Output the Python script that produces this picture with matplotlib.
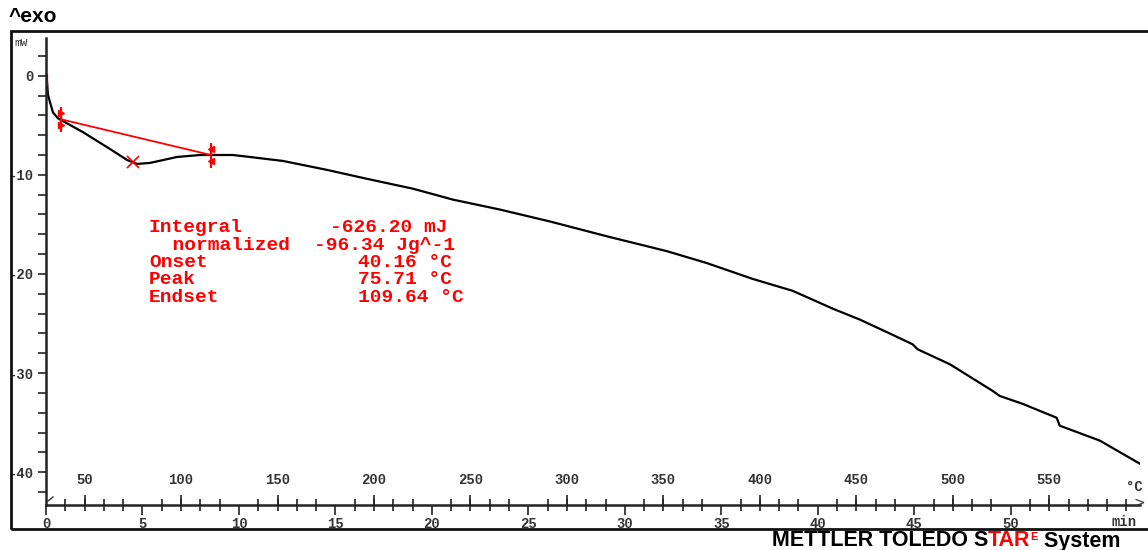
import numpy as np
import matplotlib.pyplot as plt
from matplotlib.patches import Rectangle
from matplotlib.ticker import MultipleLocator

# DSC curve: time in min, heat flow in mW
time_min = [0.0, 0.05, 0.10, 0.21, 0.36, 0.62, 1.92, 3.32, 4.20, 4.72, 5.39, 6.79,
            7.98, 9.69, 10.57, 12.28, 14.56, 16.63, 19.02, 21.09, 23.52, 26.11,
            29.07, 32.18, 34.25, 36.63, 38.70, 40.78, 42.18, 43.73, 44.92, 45.18,
            46.84, 49.07, 49.43, 50.62, 52.38, 52.54, 54.61, 56.84]
heat_flow_mw = [-0.2, -0.5, -1.9, -2.7, -3.7, -4.3, -5.7, -7.4, -8.5, -8.9, -8.8, -8.2,
                -8.0, -8.0, -8.2, -8.6, -9.5, -10.4, -11.4, -12.5, -13.5, -14.7,
                -16.2, -17.7, -18.9, -20.5, -21.7, -23.5, -24.6, -26.0, -27.1, -27.6,
                -29.1, -31.8, -32.3, -33.1, -34.5, -35.3, -36.8, -39.3]

baseline_t = [0.78, 8.55]
baseline_mw = [-4.4, -8.0]
peak_t, peak_mw = 4.5, -8.7
start_t, start_mw = 0.05, -0.4

result_names = ['Integral', '  normalized', 'Onset', 'Peak', 'Endset']
result_values = ['-626.20 mJ', '-96.34 Jg^-1', '40.16 °C', '75.71 °C', '109.64 °C']

time_ticks = list(range(0, 51, 5))
temp_ticks = list(range(50, 551, 50))
mw_ticks = [0, -10, -20, -30, -40]

W, H = 1148, 550


def px(x, y):
    return x / W, 1 - y / H


fig = plt.figure(figsize=(W / 100, H / 100), dpi=100)
ax = fig.add_axes([46 / W, 45 / H, 1094 / W, 467 / H])
ax.set_xlim(0, 56.7)
ax.set_ylim(-43.3, 3.8)

for s in ['top', 'right']:
    ax.spines[s].set_visible(False)
for s in ['left', 'bottom']:
    ax.spines[s].set_linewidth(1.8)
    ax.spines[s].set_color('#222222')

mono = 'Liberation Mono'
ax.set_yticks(mw_ticks)
ax.set_yticklabels([str(v) for v in mw_ticks], fontfamily=mono, fontweight='bold',
                   fontsize=10, color='#333333')
ax.yaxis.set_minor_locator(MultipleLocator(2))
ax.tick_params(axis='y', which='both', direction='out', length=6, width=1.2,
               color='#222222', pad=3)

ax.set_xticks(time_ticks)
ax.set_xticklabels([str(v) for v in time_ticks], fontfamily=mono, fontweight='bold',
                   fontsize=10, color='#333333')
ax.xaxis.set_minor_locator(MultipleLocator(1))
ax.tick_params(axis='x', which='major', direction='out', length=7, width=1.2,
               color='#222222', pad=2)
ax.tick_params(axis='x', which='minor', direction='inout', length=8, width=1.2,
               color='#222222')

sec = ax.secondary_xaxis(0, functions=(lambda t: 30 + 10 * np.asarray(t),
                                       lambda T: (np.asarray(T) - 30) / 10))
sec.set_xticks(temp_ticks)
sec.set_xticklabels([str(v) for v in temp_ticks], fontfamily=mono, fontweight='bold',
                    fontsize=10, color='#333333')
sec.xaxis.set_ticks_position('top')
sec.tick_params(axis='x', which='major', top=True, bottom=False, labeltop=True,
                labelbottom=False, direction='out', length=7, width=1.2,
                color='#222222', pad=6)
sec.tick_params(axis='x', which='minor', top=False, bottom=False)
for s in sec.spines.values():
    s.set_visible(False)

# curve and evaluation marks
ax.plot(time_min, heat_flow_mw, color='black', linewidth=1.6)
ax.plot(baseline_t, baseline_mw, color='red', linewidth=1.3)
ax.plot(baseline_t, baseline_mw, linestyle='none', marker='|', markersize=18,
        markeredgewidth=1.6, color='red')
ax.plot([baseline_t[0]] * 2, [baseline_mw[0] + 0.6, baseline_mw[0] - 0.6],
        linestyle='none', marker='>', markersize=4, color='red')
ax.plot([baseline_t[1]] * 2, [baseline_mw[1] + 0.6, baseline_mw[1] - 0.6],
        linestyle='none', marker='<', markersize=4, color='red')
ax.plot([peak_t], [peak_mw], linestyle='none', marker='x', markersize=8,
        markeredgewidth=1.2, color='red')
ax.plot([start_t], [start_mw], linestyle='none', marker='|', markersize=8,
        markeredgewidth=1.6, color='red')

# result block
for i, (name, val) in enumerate(zip(result_names, result_values)):
    y = 228 + i * 17.3
    fig.text(*px(149, y), name, color='red', fontfamily=mono, fontweight='bold',
             fontsize=14, va='center', ha='left')
    xv = 330 if i == 0 else (314 if i == 1 else 358)
    fig.text(*px(xv, y), val, color='red', fontfamily=mono, fontweight='bold',
             fontsize=14, va='center', ha='left')

# frame and labels
fig.patches.append(Rectangle(px(11, 529), 1200 / W, 498 / H, transform=fig.transFigure,
                             fill=False, edgecolor='#111111', linewidth=2))
fig.text(*px(9, 16), '^exo', fontfamily='Liberation Sans', fontweight='bold',
         fontsize=15, va='center', ha='left')
fig.text(*px(14, 43), 'mW', fontfamily=mono, fontsize=8, va='center', ha='left',
         color='#333333')
fig.text(*px(1124, 522), 'min', fontfamily=mono, fontweight='bold', fontsize=10,
         va='center', ha='center', color='#333333')
fig.text(*px(1134, 487), '°C', fontfamily=mono, fontweight='bold', fontsize=10,
         va='center', ha='center', color='#333333')
fig.text(*px(1139, 503), '>', fontfamily='DejaVu Sans', fontsize=10, va='center',
         ha='center', color='#333333')
fig.lines.append(plt.Line2D([48 / W, 53 / W], [1 - 501 / H, 1 - 497 / H],
                            transform=fig.transFigure, color='#333333', linewidth=1))

brand = fig.text(*px(772, 541), 'METTLER TOLEDO S', fontfamily='Liberation Sans',
                 fontweight='bold', fontsize=15.5, va='center', ha='left')
t2 = ax.annotate('TAR', xy=(1, 0), xycoords=brand, va='bottom', ha='left',
                 fontfamily='Liberation Sans', fontweight='bold', fontsize=15.5,
                 color='red', annotation_clip=False)
t3 = ax.annotate('E', xy=(1, 0.45), xycoords=t2, va='bottom', ha='left',
                 fontfamily='Liberation Sans', fontweight='bold', fontsize=8,
                 color='red', annotation_clip=False)
ax.annotate(' System', xy=(1, 0), xycoords=(t3, t2), va='bottom', ha='left',
            fontfamily='Liberation Sans', fontweight='bold', fontsize=15.5,
            annotation_clip=False)

fig.savefig('out.png', dpi=100)
